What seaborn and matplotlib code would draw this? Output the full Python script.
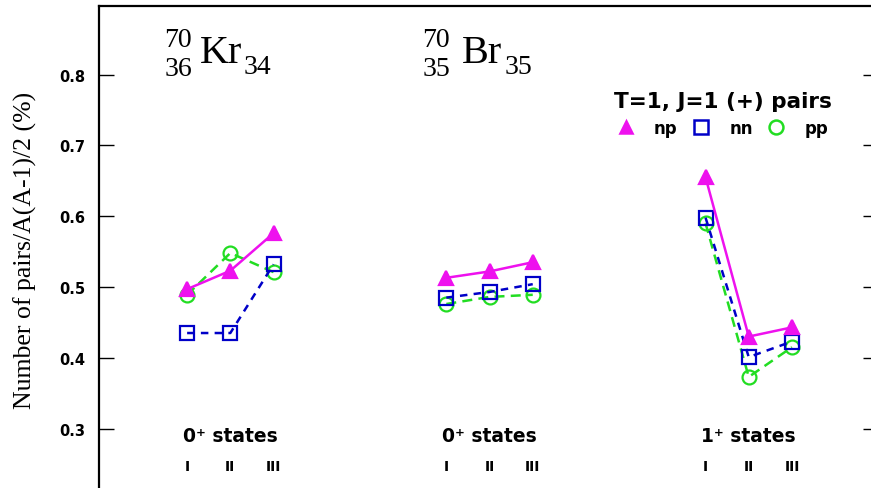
import matplotlib
matplotlib.use("Agg")
import matplotlib.pyplot as plt
from matplotlib.lines import Line2D
import pandas as pd
import seaborn as sns

# State groups and their x positions (three states per group)
groups = ["Kr 0+", "Br 0+", "Kr 1+"]
group_x = [[0, 1, 2], [6, 7, 8], [12, 13, 14]]
state_labels = ["I", "II", "III"]
group_titles = ["0\u207a states", "0\u207a states", "1\u207a states"]

# Fraction of T=1, J=1 pairs (%) per state
np_vals = [[0.497, 0.523, 0.576], [0.513, 0.522, 0.535], [0.655, 0.430, 0.443]]
nn_vals = [[0.435, 0.435, 0.532], [0.485, 0.493, 0.504], [0.598, 0.401, 0.423]]
pp_vals = [[0.489, 0.548, 0.521], [0.476, 0.486, 0.489], [0.590, 0.373, 0.415]]

series = {"np": np_vals, "nn": nn_vals, "pp": pp_vals}
colors = {"np": "#ee11ee", "nn": "#0000c8", "pp": "#22dd22"}
markers = {"np": "^", "nn": "s", "pp": "o"}
styles = {"np": "-", "nn": (0, (3, 2.5)), "pp": (0, (4, 2.5))}

rows = []
for name, vals in series.items():
    for g, xs, ys in zip(groups, group_x, vals):
        for x, y in zip(xs, ys):
            rows.append({"pair": name, "group": g, "x": x, "value": y})
df = pd.DataFrame(rows)

sns.set_style("white")
plt.rcParams.update({
    "text.color": "black",
    "axes.labelcolor": "black",
    "xtick.color": "black",
    "ytick.color": "black",
})

fig = plt.figure(figsize=(8.71, 4.89), dpi=100)
ax = fig.add_axes([99 / 871, 0.0, 1 - 99 / 871, 482 / 489])

for name in ["pp", "nn", "np"]:
    sub = df[df["pair"] == name]
    filled = name == "np"
    sns.lineplot(
        data=sub, x="x", y="value", units="group", estimator=None,
        ax=ax, color=colors[name], linestyle=styles[name], linewidth=1.8,
        marker=markers[name], markersize=10,
        markerfacecolor=colors[name] if filled else "none",
        markeredgecolor=colors[name], markeredgewidth=1.6,
        legend=False,
    )

ax.set_xlim(-2.04, 15.83)
ax.set_ylim(0.2161, 0.8969)
ax.set_xlabel("")
ax.set_xticks([])
ax.set_yticks([0.3, 0.4, 0.5, 0.6, 0.7, 0.8])
ax.set_yticklabels(["0.3", "0.4", "0.5", "0.6", "0.7", "0.8"],
                   fontweight="bold", fontsize=10.5)
ax.tick_params(axis="y", which="major", direction="in", length=11, width=1.0,
               pad=10, left=True, right=True)
ax.yaxis.set_ticks_position("both")
for t in ax.yaxis.get_major_ticks():
    t.tick2line.set_markersize(6)

ax.set_ylabel("Number of pairs/A(A-1)/2 (%)", family="Liberation Serif",
              fontsize=18.5)
ax.yaxis.set_label_coords(-0.080, 0.494)

for side in ["left", "top"]:
    ax.spines[side].set_linewidth(1.6)
    ax.spines[side].set_color("black")
ax.spines["bottom"].set_visible(False)
ax.spines["right"].set_visible(False)

# Nucleus labels: mass / charge prescripts, symbol, neutron subscript
serif = "Liberation Serif"
for sym, (a, z, n), x_pre, x_sym, x_sub in [
    ("Kr", ("70", "36", "34"), 0.116, 0.30, 1.296),
    ("Br", ("70", "35", "35"), 6.088, 6.366, 7.338),
]:
    ax.text(x_pre, 0.849, a, family=serif, fontsize=20, ha="right", va="center")
    ax.text(x_pre, 0.8086, z, family=serif, fontsize=20, ha="right", va="center")
    ax.text(x_sym, 0.8178, sym, family=serif, fontsize=29, ha="left",
            va="baseline")
    ax.text(x_sub, 0.812, n, family=serif, fontsize=20, ha="left", va="center")

# Group titles and state numerals
for xs, title in zip(group_x, group_titles):
    ax.text(xs[1], 0.2896, title, fontsize=13.5, fontweight="heavy",
            ha="center", va="center")
    for x, lab in zip(xs, state_labels):
        ax.text(x, 0.247, lab, fontsize=10, fontweight="heavy",
                ha="center", va="center")

handles = [
    Line2D([], [], linestyle="none", marker=markers[n],
           markersize=10 if n != "np" else 9,
           markerfacecolor=colors[n] if n == "np" else "none",
           markeredgecolor=colors[n], markeredgewidth=1.8)
    for n in ["np", "nn", "pp"]
]
leg = ax.legend(handles, ["np", "nn", "pp"], ncol=3, frameon=False,
                title="T=1, J=1 (+) pairs", loc="center",
                bbox_to_anchor=(0.808, 0.776), handlelength=1.0,
                handletextpad=1.2, columnspacing=0.9,
                prop={"weight": "bold", "size": 12},
                title_fontproperties={"weight": "heavy", "size": 15.5})

fig.savefig("out.png", dpi=100, facecolor="white")
